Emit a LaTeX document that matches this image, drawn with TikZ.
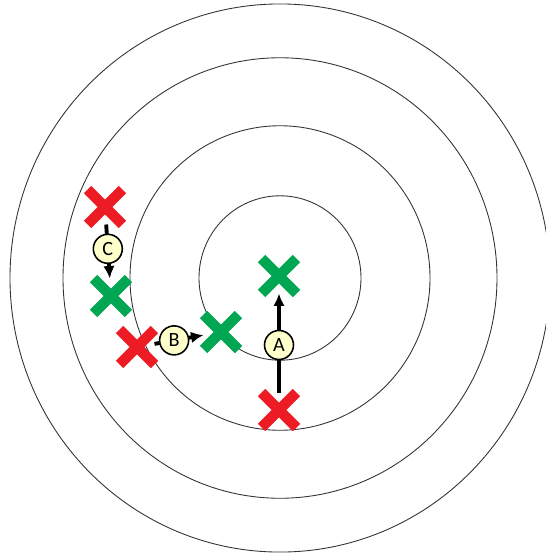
\documentclass[tikz,border=0pt]{standalone}
\usepackage{fontspec}
\setmainfont{Carlito}
\usepackage{xcolor}
\usetikzlibrary{arrows.meta,shapes.misc}
\definecolor{ringgray}{HTML}{333333}
\definecolor{missred}{HTML}{ED1C24}
\definecolor{hitgreen}{HTML}{00A651}
\definecolor{tagfill}{HTML}{FFFFCC}

\begin{document}
\begin{tikzpicture}[x=0.02cm,y=-0.02cm,>={Latex[length=2.5mm,width=2.3mm]}]
  \tikzstyle{ring}=[draw=ringgray,line width=0.5pt]
  \tikzstyle{miss}=[cross out,draw=missred,line width=2.1mm,minimum size=7mm,inner sep=0pt,outer sep=0pt]
  \tikzstyle{hit}=[cross out,draw=hitgreen,line width=2.1mm,minimum size=7mm,inner sep=0pt,outer sep=0pt]
  \tikzstyle{move}=[->,line width=2.2pt]
  \tikzstyle{tag}=[circle,draw,line width=0.9pt,fill=tagfill,minimum size=5.8mm,inner sep=0pt,font=\fontsize{11.5}{13}\selectfont]
  \useasboundingbox (0,0) rectangle (545,555);
  \foreach \r in {81,150,217,270}
    \draw[ring] (280,278) ellipse [x radius=\r, y radius=1.015*\r];
  \node[miss] (missA) at (279,410) {};
  \node[hit] (hitA) at (279,276) {};
  \node[miss] (missB) at (137,347) {};
  \node[hit] (hitB) at (221,332) {};
  \node[miss] (missC) at (105,207) {};
  \node[hit] (hitC) at (111,296) {};
  \draw[move] (missA) -- node[tag,pos=0.48] (tagA) {A} (hitA);
  \draw[move] (missB) -- node[tag,pos=0.4] (tagB) {B} (hitB);
  \draw[move] (missC) -- node[tag,pos=0.45] (tagC) {C} (hitC);
\end{tikzpicture}
\end{document}
